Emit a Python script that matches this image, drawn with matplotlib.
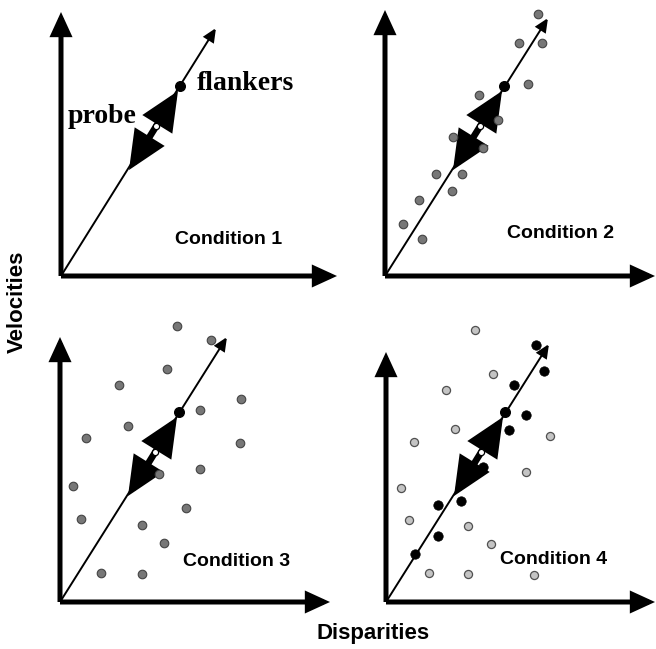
import matplotlib
matplotlib.use("Agg")
import matplotlib.pyplot as plt
from matplotlib.patches import FancyArrowPatch

# panel geometry, in pixels (origin of each panel, relative coords go up/right)
origins = [(61, 276), (385, 276), (60, 602), (386, 602)]
y_tips = [264, 266, 265, 250]
x_tips = [276, 270, 270, 269]
line_ends = [(155, 248), (163, 258), (167, 265), (163, 258)]
cond_labels = ["Condition 1", "Condition 2", "Condition 3", "Condition 4"]
cond_pos = [(114, 36), (122, 43), (123, 40), (114, 42)]

# probe / flankers (same in every panel)
flanker = (119, 190)
probe = (95, 150)
probe_arrow = [(68, 106), (117, 185)]

# distractor dots, relative to each panel origin
gray2_x = [153, 134, 157, 143, 94, 113, 68, 98, 51, 77, 67, 34, 18, 37]
gray2_y = [262, 233, 233, 192, 181, 156, 139, 128, 102, 102, 85, 76, 52, 37]

gray3_x = [117, 151, 107, 59, 181, 140, 68, 26, 180, 140, 99, 13, 126, 21, 82, 104, 41, 82]
gray3_y = [276, 262, 233, 217, 203, 192, 176, 164, 159, 133, 128, 116, 94, 83, 77, 59, 29, 28]

light4_x = [89, 107, 60, 69, 28, 164, 140, 15, 23, 82, 105, 43, 82, 148]
light4_y = [272, 228, 212, 173, 160, 166, 130, 114, 82, 76, 58, 29, 28, 27]
black4_x = [150, 158, 128, 140, 123, 97, 75, 52, 52, 29]
black4_y = [257, 231, 217, 187, 172, 135, 101, 97, 66, 48]

fig = plt.figure(figsize=(6.56, 6.49), dpi=100)
ax = fig.add_axes([0, 0, 1, 1])
ax.set_xlim(0, 656)
ax.set_ylim(649, 0)
ax.axis("off")


def arrow(p0, p1, style, lw, z=2):
    a = FancyArrowPatch(p0, p1, arrowstyle=style, lw=lw, color="black",
                        shrinkA=0, shrinkB=0, mutation_scale=1, zorder=z,
                        joinstyle="miter", capstyle="butt")
    ax.add_patch(a)


def to_abs(o, xs, ys):
    return [o[0] + x for x in xs], [o[1] - y for y in ys]


for i, o in enumerate(origins):
    # axes arrows
    arrow((o[0], o[1]), (o[0], o[1] - y_tips[i]), "-|>,head_length=12,head_width=5.5", 3.6)
    arrow((o[0], o[1]), (o[0] + x_tips[i], o[1]), "-|>,head_length=12,head_width=5.5", 3.6)
    # diagonal
    le = line_ends[i]
    arrow((o[0], o[1]), (o[0] + le[0], o[1] - le[1]), "-|>,head_length=8,head_width=3.6", 1.4)
    # probe motion double arrow
    (ax0, ay0), (ax1, ay1) = probe_arrow
    arrow((o[0] + ax0, o[1] - ay0), (o[0] + ax1, o[1] - ay1),
          "<|-|>,head_length=20,head_width=9", 4.8, z=3)

    ax.text(o[0] + cond_pos[i][0], o[1] - cond_pos[i][1], cond_labels[i],
            fontsize=14, fontweight="bold", family="Liberation Sans",
            ha="left", va="center")

# distractors
gx, gy = to_abs(origins[1], gray2_x, gray2_y)
ax.scatter(gx, gy, s=38, c="#777777", edgecolors="#444444", linewidths=0.8, zorder=4)
gx, gy = to_abs(origins[2], gray3_x, gray3_y)
ax.scatter(gx, gy, s=38, c="#777777", edgecolors="#444444", linewidths=0.8, zorder=4)
gx, gy = to_abs(origins[3], light4_x, light4_y)
ax.scatter(gx, gy, s=34, c="#c4c4c4", edgecolors="#505050", linewidths=0.9, zorder=4)
gx, gy = to_abs(origins[3], black4_x, black4_y)
ax.scatter(gx, gy, s=46, c="black", edgecolors="black", linewidths=0.5, zorder=4)

# flankers and probe in every panel
for o in origins:
    ax.scatter([o[0] + flanker[0]], [o[1] - flanker[1]], s=48, c="black", zorder=5)
    ax.scatter([o[0] + probe[0]], [o[1] - probe[1]], s=20, c="white",
               edgecolors="black", linewidths=0.9, zorder=5)

# annotations in panel 1
o = origins[0]
ax.text(o[0] + 136, o[1] - 186, "flankers", fontsize=20, fontweight="bold",
        family="Liberation Serif", ha="left", va="baseline")
ax.text(o[0] + 7, o[1] - 153, "probe", fontsize=20, fontweight="bold",
        family="Liberation Serif", ha="left", va="baseline")

ax.text(17, 302, "Velocities", fontsize=16, fontweight="bold", family="Liberation Sans",
        rotation=90, ha="center", va="center")
ax.text(373, 633, "Disparities", fontsize=16, fontweight="bold", family="Liberation Sans",
        ha="center", va="center")

fig.savefig("out.png", dpi=100)
